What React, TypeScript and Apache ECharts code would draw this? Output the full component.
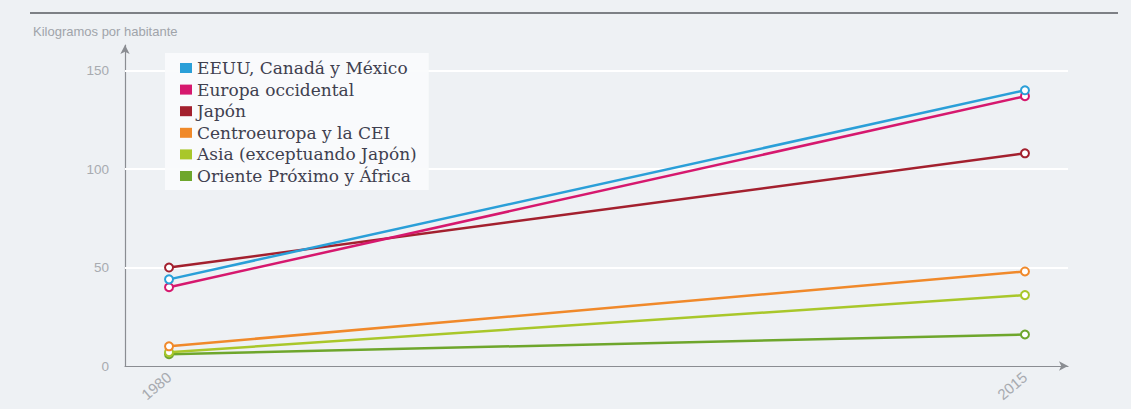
import React, { useEffect, useRef } from "react";
import * as echarts from "echarts";

const years = [1980, 2015];
const seriesNames = [
  "EEUU, Canadá y México",
  "Europa occidental",
  "Japón",
  "Centroeuropa y la CEI",
  "Asia (exceptuando Japón)",
  "Oriente Próximo y África",
];
const eeuu = [44, 140];
const europa = [40, 137];
const japon = [50, 108];
const centro = [10, 48];
const asia = [7, 36];
const oriente = [6, 16];
const yTicks = [0, 50, 100, 150];
const gridValues = [50, 100, 150];
const colors = ["#2a9fd8", "#d6186e", "#a3202e", "#f0892a", "#a9c72a", "#6ea62c"];
const yTitle = "Kilogramos por habitante";

export default function App() {
  const ref = useRef<HTMLDivElement>(null);
  useEffect(() => {
    document.body.style.margin = "0";
    if (!ref.current) return;
    const chart = echarts.init(ref.current, null, { renderer: "svg" });
    const values = [eeuu, europa, japon, centro, asia, oriente];
    const series: any[] = values.map((vals, i) => ({
      name: seriesNames[i],
      type: "line",
      data: vals.map((v, j) => [years[j], v]),
      symbol: "emptyCircle",
      symbolSize: 8,
      color: colors[i],
      lineStyle: { width: 2.5, color: colors[i] },
      itemStyle: { color: colors[i], borderWidth: 2 },
      z: 10 - i,
    }));
    series.push({
      name: "grid",
      type: "line",
      data: [],
      silent: true,
      z: 1,
      markLine: {
        silent: true,
        symbol: "none",
        z: 1,
        label: { show: false },
        lineStyle: { color: "#ffffff", width: 2, type: "solid" },
        data: gridValues.map((v) => ({ yAxis: v })),
      },
    });
    chart.setOption({
      animation: false,
      backgroundColor: "#eef1f4",
      grid: { left: 125, right: 63, top: 45, bottom: 43 },
      legend: {
        data: seriesNames,
        orient: "vertical",
        left: 165,
        top: 53,
        z: 30,
        icon: "rect",
        itemWidth: 12,
        itemHeight: 10,
        itemGap: 1.6,
        padding: [5, 12, 4, 15],
        backgroundColor: "rgba(250,251,252,0.92)",
        textStyle: {
          fontFamily: "DejaVu Serif",
          fontSize: 17,
          lineHeight: 20,
          color: "#40404f",
        },
      },
      xAxis: {
        type: "value",
        min: 1978.2,
        max: 2016.76,
        axisLine: {
          show: true,
          lineStyle: { color: "#8a8d92", width: 1.2 },
          symbol: ["none", "arrow"],
          symbolSize: [7, 9],
        },
        axisTick: { show: false },
        splitLine: { show: false },
        axisLabel: {
          customValues: years,
          rotate: 40,
          color: "#a8abb0",
          fontSize: 15,
          fontFamily: "Liberation Sans",
          margin: 9,
          formatter: (v: number) => String(v),
        },
      },
      yAxis: {
        type: "value",
        min: 0,
        max: 163,
        axisLine: {
          show: true,
          lineStyle: { color: "#8a8d92", width: 1.2 },
          symbol: ["none", "arrow"],
          symbolSize: [7, 9],
        },
        axisTick: { show: false },
        splitLine: { show: false },
        axisLabel: {
          customValues: yTicks,
          color: "#a8abb0",
          fontSize: 13.5,
          fontFamily: "Liberation Sans",
          margin: 16,
        },
      },
      graphic: [
        {
          type: "line",
          shape: { x1: 30, y1: 13, x2: 1118, y2: 13 },
          style: { stroke: "#7d8085", lineWidth: 2 },
        },
        {
          type: "text",
          left: 33,
          top: 25,
          style: {
            text: yTitle,
            fill: "#a0a4aa",
            fontSize: 13,
            fontFamily: "Liberation Sans",
          },
        },
      ],
      series,
    });
    return () => chart.dispose();
  }, []);
  return <div ref={ref} style={{ width: 1131, height: 409 }} />;
}
